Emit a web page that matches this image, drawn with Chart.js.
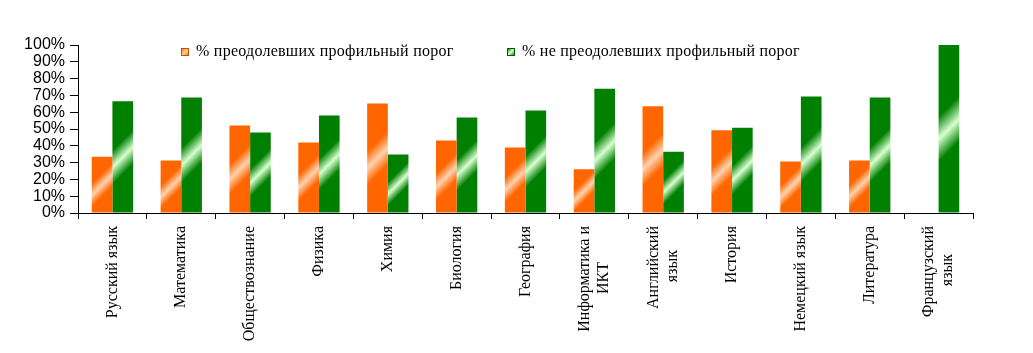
<!DOCTYPE html>
<html>
<head>
<meta charset="utf-8">
<script src="https://cdn.jsdelivr.net/npm/chart.js@4"></script>
<style>
    html, body { margin: 0; padding: 0; background: #fff; }
    #wrap { width: 1033px; height: 353px; }
</style>
</head>
<body>
<div id="wrap"><canvas id="chart" width="1033" height="353"></canvas></div>
<script>
// Данные
const subjects = [
    ["Русский язык"], ["Математика"], ["Обществознание"], ["Физика"], ["Химия"],
    ["Биология"], ["География"], ["Информатика и", "ИКТ"], ["Английский", "язык"],
    ["История"], ["Немецкий язык"], ["Литература"], ["Французский", "язык"]
];
const seriesNames = ["% преодолевших профильный порог", "% не преодолевших профильный порог"];
const passed = [33.5, 31.2, 52.1, 42.0, 65.2, 43.2, 39.0, 26.0, 63.5, 49.2, 30.7, 31.3, 0];
const failed = [66.5, 68.8, 47.9, 58.0, 34.8, 56.8, 61.0, 74.0, 36.5, 50.8, 69.3, 68.7, 100];
const yTickValues = [0, 10, 20, 30, 40, 50, 60, 70, 80, 90, 100];

const colors = [
    { base: "#ff6600", light: "#ffd2ae" },
    { base: "#008000", light: "#d8ffd0" }
];
const labelFont = '16px "Liberation Serif"';
const lineH = 19.2;

// Градиент с бликом по диагонали
function glossGradient(c, xc, top, h, col) {
    const yc = top + h * 0.5;
    const L = h / 2 + 20;
    const g = c.createLinearGradient(xc - L, yc - L, xc + L, yc + L);
    const hw = Math.min(0.45, (6 + 0.1 * h) / (4 * L));
    g.addColorStop(0, col.base);
    g.addColorStop(0.5 - hw, col.base);
    g.addColorStop(0.5, col.light);
    g.addColorStop(0.5 + hw, col.base);
    g.addColorStop(1, col.base);
    return g;
}

function barFill(col) {
    return function(context) {
        const chart = context.chart;
        const xs = chart.scales.x, ys = chart.scales.y;
        if (!xs || !ys || context.type !== "data" || context.raw == null) return col.base;
        const catW = xs.width / chart.data.labels.length;
        const barW = catW * 0.6 / 2;
        const xc = xs.getPixelForValue(context.dataIndex) + (context.datasetIndex === 0 ? -barW / 2 : barW / 2);
        const top = ys.getPixelForValue(context.raw);
        const h = ys.getPixelForValue(0) - top;
        if (!isFinite(xc) || !isFinite(top) || !isFinite(h) || h <= 0) return col.base;
        return glossGradient(chart.ctx, xc, top, h, col);
    };
}

// Центрирование строк подписей (пробелами)
const measureCtx = document.createElement("canvas").getContext("2d");
measureCtx.font = labelFont;
function centerLines(value, index) {
    const lines = subjects[index];
    if (lines.length < 2) return lines;
    const widths = lines.map(l => measureCtx.measureText(l).width);
    const maxW = Math.max(...widths);
    const sp = measureCtx.measureText("\u00a0").width;
    return lines.map((l, i) => l + "\u00a0".repeat(Math.round((maxW - widths[i]) / 2 / sp)));
}

// Многострочные подписи - по центру деления
const centerMultiline = {
    id: "centerMultiline",
    beforeDraw(chart) {
        const xs = chart.scales.x;
        xs.getLabelItems(chart.chartArea).forEach(it => {
            if (Array.isArray(it.label) && it.label.length > 1 && !it.shifted) {
                it.options.translation[0] -= (it.label.length - 1) * lineH / 2;
                it.shifted = true;
            }
        });
    }
};

// Легенда внутри области графика
const legendX = [181, 507];
const boxLegend = {
    id: "boxLegend",
    afterDraw(chart) {
        const c = chart.ctx;
        c.save();
        c.font = labelFont;
        c.letterSpacing = "0.25px";
        c.textBaseline = "middle";
        c.textAlign = "left";
        chart.data.datasets.forEach((ds, i) => {
            const x = legendX[i], y = 52;
            c.fillStyle = glossGradient(c, x + 4, y - 4, 8, colors[i]);
            c.fillRect(x, y - 4, 8, 8);
            c.strokeStyle = i === 0 ? "#c84f00" : "#005a00";
            c.lineWidth = 1;
            c.strokeRect(x + 0.5, y - 3.5, 7, 7);
            c.fillStyle = "#000";
            c.fillText(ds.label, x + 15, y);
        });
        c.restore();
    }
};

new Chart(document.getElementById("chart").getContext("2d"), {
    type: "bar",
    data: {
        labels: subjects,
        datasets: [
            { label: seriesNames[0], data: passed, backgroundColor: barFill(colors[0]), borderWidth: 0 },
            { label: seriesNames[1], data: failed, backgroundColor: barFill(colors[1]), borderWidth: 0 }
        ]
    },
    options: {
        responsive: false,
        animation: false,
        layout: { padding: { top: 45, right: 60, left: 0, bottom: 0 } },
        datasets: { bar: { categoryPercentage: 0.6, barPercentage: 1 } },
        plugins: { legend: { display: false }, tooltip: { enabled: false } },
        scales: {
            x: {
                grid: { offset: true, drawOnChartArea: false, tickLength: 6, color: "#000" },
                border: { color: "#000" },
                ticks: {
                    minRotation: 90, maxRotation: 90, autoSkip: false, padding: 7,
                    color: "#000", font: { family: '"Liberation Serif"', size: 16, lineHeight: 1.2 },
                    callback: centerLines
                },
                afterFit: s => { s.height = 140; }
            },
            y: {
                min: 0, max: 100,
                grid: { drawOnChartArea: false, tickLength: 8, color: "#000" },
                border: { color: "#000" },
                afterBuildTicks: s => { s.ticks = yTickValues.map(v => ({ value: v })); },
                ticks: {
                    autoSkip: false, padding: 5, color: "#000",
                    font: { family: '"Liberation Sans"', size: 16 },
                    callback: v => v + "%"
                },
                afterFit: s => { s.width = 78; }
            }
        }
    },
    plugins: [centerMultiline, boxLegend]
});
</script>
</body>
</html>
